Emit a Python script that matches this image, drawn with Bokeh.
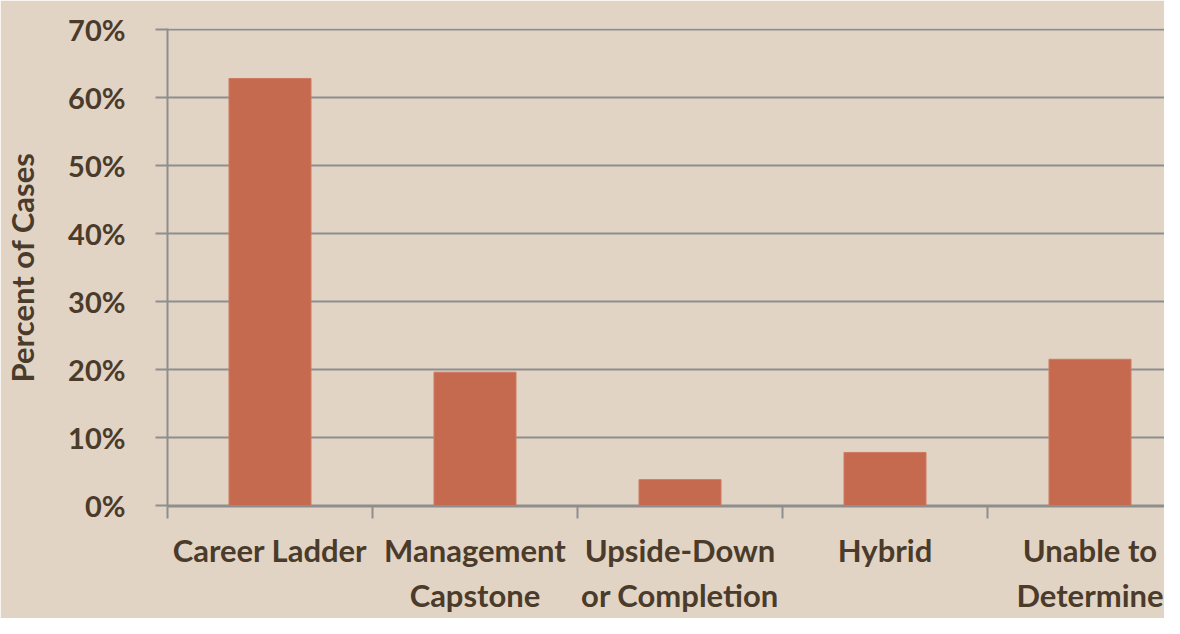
from bokeh.plotting import figure
from bokeh.models import Range1d, FixedTicker, PrintfTickFormatter
from bokeh.embed import file_html
from bokeh.resources import INLINE

categories = ["Career Ladder", "Management\nCapstone", "Upside-Down\nor Completion",
              "Hybrid", "Unable to\nDetermine"]
percent_of_cases = [62.8, 19.6, 3.8, 7.8, 21.5]
y_ticks = [0, 10, 20, 30, 40, 50, 60, 70]

BG = "#E2D4C4"
BAR = "#C5694F"
TEXT = "#4B3B2B"
GRID = "#8E8E8E"
FONT = "Lato"

n = len(categories)
xs = [i + 0.5 for i in range(n)]

p = figure(width=1164, height=618, output_backend="svg", toolbar_location=None,
           x_range=Range1d(0, 997 / 205), y_range=Range1d(-0.15, 70.15),
           min_border_left=167, min_border_right=0, min_border_top=28,
           min_border_bottom=112)
p.background_fill_color = BG
p.border_fill_color = BG
p.outline_line_color = None

p.vbar(x=xs, top=percent_of_cases, width=0.4, fill_color=BAR, line_color="#CF7B62",
       line_width=1)

# y axis
yax = p.yaxis[0]
yax.ticker = FixedTicker(ticks=y_ticks)
yax.formatter = PrintfTickFormatter(format="%d%%")
yax.axis_line_color = GRID
yax.axis_line_width = 2
yax.major_tick_line_color = GRID
yax.major_tick_line_width = 2
yax.major_tick_out = 12
yax.major_tick_in = 0
yax.minor_tick_line_color = None
yax.major_label_text_font = FONT
yax.major_label_text_font_style = "bold"
yax.major_label_text_font_size = "29px"
yax.major_label_text_color = TEXT
yax.major_label_text_baseline = "alphabetic"
yax.major_label_standoff = 30
yax.axis_label = "Percent of Cases"
yax.axis_label_text_font = FONT
yax.axis_label_text_font_style = "bold"
yax.axis_label_text_font_size = "31px"
yax.axis_label_text_color = TEXT
yax.axis_label_standoff = 24

# x axis: category labels at centres, tick marks at boundaries (minor ticks)
xax = p.xaxis[0]
xax.ticker = FixedTicker(ticks=xs, minor_ticks=list(range(n + 1)))
xax.major_label_overrides = {x: c for x, c in zip(xs, categories)}
xax.major_label_text_font = FONT
xax.major_label_text_font_style = "bold"
xax.major_label_text_font_size = "31px"
xax.major_label_text_color = TEXT
xax.major_label_text_line_height = 1.2
xax.major_label_standoff = 12
xax.major_tick_line_color = None
xax.major_tick_out = 0
xax.major_tick_in = 0
xax.minor_tick_line_color = GRID
xax.minor_tick_line_width = 2
xax.minor_tick_out = 12
xax.minor_tick_in = 0
xax.axis_line_color = GRID
xax.axis_line_width = 2

p.xgrid.grid_line_color = None
p.ygrid.ticker = FixedTicker(ticks=y_ticks)
p.ygrid.grid_line_color = GRID
p.ygrid.grid_line_width = 2

open("out.html", "w").write(file_html(p, INLINE))
